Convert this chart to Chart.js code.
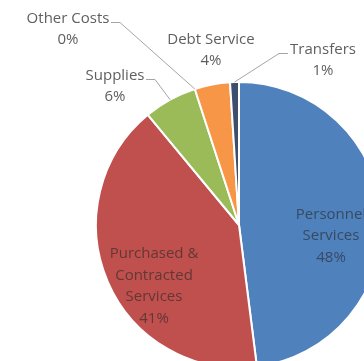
<!DOCTYPE html>
<html>
<head>
<meta charset="utf-8">
<script src="https://cdn.jsdelivr.net/npm/chart.js@4"></script>
<style>
html, body { margin: 0; padding: 0; background: #fff; overflow: hidden; }
#wrap { width: 478px; height: 450px; }
</style>
</head>
<body>
<div id="wrap"><canvas id="budget-chart" width="478" height="450"></canvas></div>
<script>
const categories = ["Personnel Services", "Purchased & Contracted Services", "Supplies", "Other Costs", "Debt Service", "Transfers"];
const shares = [48, 41, 6, 0, 4, 1];
const sliceColors = ['#4f81bd', '#c0504d', '#9bbb59', '#8064a2', '#f79646', '#3c4f6e'];

// text lines for each slice label (the percent line is added from shares)
const labelLines = [
    ["Personnel", "Services"],
    ["Purchased &", "Contracted", "Services"],
    ["Supplies"],
    ["Other Costs"],
    ["Debt Service"],
    ["Transfers"]
];

// where each label block sits, relative to the pie centre
const labelPlacement = [
    { dx: 92, dy: 11, inside: true },
    { dx: -85, dy: 61, inside: true },
    { dx: -124, dy: -139, leader: "right" },
    { dx: -171, dy: -196, leader: "right" },
    { dx: -28, dy: -175 },
    { dx: 84, dy: -165, leader: "left" }
];

const sliceLabels = {
    id: "sliceLabels",
    afterDatasetsDraw(chart) {
        const ctx = chart.ctx;
        const meta = chart.getDatasetMeta(0);
        const lineHeight = 21.5;
        ctx.save();
        ctx.font = "15px 'Open Sans'";
        ctx.textAlign = "center";
        ctx.textBaseline = "middle";
        meta.data.forEach((arc, i) => {
            const place = labelPlacement[i];
            const { x, y, startAngle, endAngle, outerRadius } = arc.getProps(["x", "y", "startAngle", "endAngle", "outerRadius"], true);
            const lines = labelLines[i].concat(shares[i] + "%");
            const cx = x + place.dx;
            const top = y + place.dy - (lines.length - 1) * lineHeight / 2;

            ctx.fillStyle = place.inside ? "rgba(40, 40, 40, 0.62)" : "#5f5f5f";
            lines.forEach((t, k) => ctx.fillText(t, cx, top + k * lineHeight));

            if (place.leader) {
                const mid = (startAngle + endAngle) / 2;
                const ax = x + Math.cos(mid) * outerRadius;
                const ay = y + Math.sin(mid) * outerRadius;
                const w = ctx.measureText(lines[0]).width;
                const side = place.leader == "right" ? 1 : -1;
                const lx = Math.round(cx + side * (w / 2 + 2));
                const ly = Math.round(top + 4) + 0.5;
                ctx.strokeStyle = "#a5a5a5";
                ctx.lineWidth = 1;
                ctx.beginPath();
                ctx.moveTo(lx, ly);
                ctx.lineTo(lx + side * 9, ly);
                ctx.lineTo(ax, ay);
                ctx.stroke();
            }
        });
        ctx.restore();
    }
};

new Chart(document.getElementById("budget-chart"), {
    type: "pie",
    plugins: [sliceLabels],
    options: {
        responsive: false,
        animation: false,
        events: [],
        radius: 143,
        layout: { padding: 0 },
        plugins: {
            legend: { display: false },
            tooltip: { enabled: false }
        }
    },
    data: {
        labels: categories,
        datasets: [{
            data: shares,
            backgroundColor: sliceColors,
            borderColor: "#fff",
            borderWidth: 2
        }]
    }
});
</script>
</body>
</html>
